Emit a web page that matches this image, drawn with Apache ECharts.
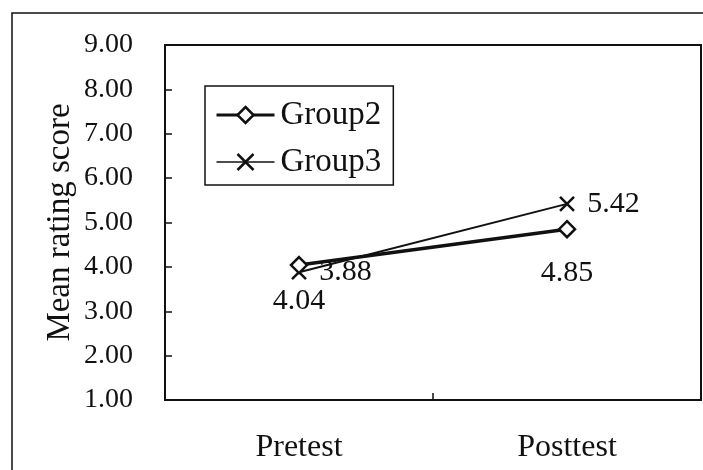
<!DOCTYPE html>
<html>
<head>
<meta charset="utf-8">
<script src="https://cdn.jsdelivr.net/npm/echarts@6/dist/echarts.min.js"></script>
<style>
html,body{margin:0;padding:0;background:#fff;}
#chart{width:703px;height:470px;}
</style>
</head>
<body>
<div id="chart"></div>
<script>
var categories = ['Pretest', 'Posttest'];
var group2Values = [4.04, 4.85];
var group3Values = [3.88, 5.42];
var yTickMin = 1, yTickMax = 9, yTickStep = 1;

var FONT = '"Liberation Serif", "Times New Roman", serif';
var INK = '#111';

var chart = echarts.init(document.getElementById('chart'), null, {renderer: 'canvas'});

var g2LabelDistance = [12, 20];

function fmt(p) { return p.value.toFixed(2); }

chart.setOption({
  animation: false,
  backgroundColor: '#fff',
  graphic: [{
    type: 'rect',
    shape: {x: 12, y: 13, width: 900, height: 700},
    style: {fill: 'none', stroke: INK, lineWidth: 1.5},
    silent: true,
    z: -1
  }],
  grid: {
    left: 165, right: 2, top: 45, bottom: 70,
    show: true, borderColor: INK, borderWidth: 2, backgroundColor: 'transparent'
  },
  legend: {
    orient: 'vertical',
    left: 205, top: 86,
    padding: [11, 12, 5, 10],
    itemGap: 11,
    itemWidth: 58,
    itemHeight: 20,
    borderColor: INK,
    borderWidth: 1.5,
    backgroundColor: '#fff',
    textStyle: {fontFamily: FONT, fontSize: 33, color: INK, lineHeight: 36, padding: [0, 0, 0, 1]},
    data: [
      {name: 'Group2', lineStyle: {width: 3}, itemStyle: {borderWidth: 2.5}},
      {name: 'Group3', lineStyle: {width: 1.5}, itemStyle: {borderWidth: 2.5}}
    ]
  },
  xAxis: {
    type: 'category',
    data: categories,
    boundaryGap: true,
    axisLine: {show: true, lineStyle: {color: INK, width: 2}},
    axisTick: {show: true, inside: true, length: 7, lineStyle: {color: INK, width: 1.5}},
    axisLabel: {fontFamily: FONT, fontSize: 32, color: INK, margin: 32},
    splitLine: {show: false}
  },
  yAxis: {
    type: 'value',
    min: yTickMin, max: yTickMax, interval: yTickStep,
    name: 'Mean rating score',
    nameLocation: 'middle',
    nameGap: 88,
    nameMoveOverlap: false,
    nameTextStyle: {fontFamily: FONT, fontSize: 33, color: INK},
    axisLine: {show: true, lineStyle: {color: INK, width: 2}},
    axisTick: {show: true, inside: true, length: 7, lineStyle: {color: INK, width: 1.5}},
    axisLabel: {
      fontFamily: FONT, fontSize: 28, color: INK, margin: 32,
      formatter: function (v) { return v.toFixed(2); }
    },
    splitLine: {show: false}
  },
  series: [{
    name: 'Group2',
    type: 'line',
    data: group2Values.map(function (v, i) {
      return {value: v, label: {distance: g2LabelDistance[i]}};
    }),
    symbol: 'diamond',
    symbolSize: 16,
    lineStyle: {color: INK, width: 3.5},
    itemStyle: {color: '#fff', borderColor: INK, borderWidth: 2.5},
    label: {
      show: true, position: 'bottom',
      fontFamily: FONT, fontSize: 30, color: INK,
      formatter: fmt
    },
    z: 3
  }, {
    name: 'Group3',
    type: 'line',
    data: group3Values,
    symbol: 'path://M0,0L10,10M10,0L0,10',
    symbolSize: 14,
    lineStyle: {color: INK, width: 2},
    itemStyle: {color: INK, borderColor: INK, borderWidth: 2.5},
    label: {
      show: true, position: 'right', distance: 12,
      fontFamily: FONT, fontSize: 30, color: INK,
      formatter: fmt
    },
    z: 2
  }]
});
</script>
</body>
</html>
